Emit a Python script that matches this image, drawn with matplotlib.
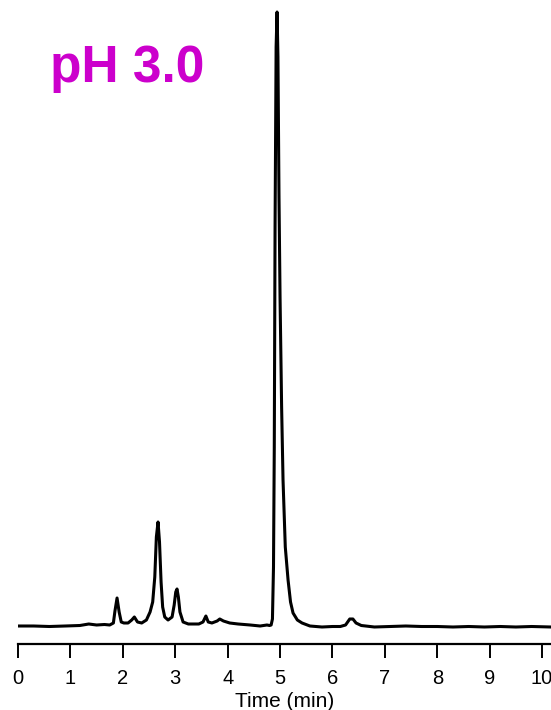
import matplotlib
matplotlib.use('Agg')
import matplotlib.pyplot as plt

plt.rcParams['font.family'] = ['Liberation Sans', 'DejaVu Sans']

# Chromatogram trace at pH 3.0 (time in min, detector signal above baseline)
time_min = [
    0.00, 0.30, 0.60, 0.90, 1.18, 1.35, 1.50, 1.65, 1.75, 1.82,
    1.85, 1.89, 1.93, 1.97, 2.02, 2.10, 2.17, 2.22, 2.28, 2.36,
    2.45, 2.52, 2.57, 2.61, 2.64, 2.672, 2.70, 2.73, 2.76, 2.80,
    2.863, 2.94, 2.98, 3.01, 3.034, 3.06, 3.09, 3.15, 3.25, 3.35,
    3.45, 3.53, 3.585, 3.63, 3.70, 3.80, 3.85, 3.92, 4.04, 4.20,
    4.43, 4.62, 4.75, 4.80, 4.83, 4.855, 4.875, 4.89, 4.905, 4.925,
    4.943, 4.96, 4.98, 5.00, 5.03, 5.057, 5.10, 5.153, 5.20, 5.248,
    5.33, 5.42, 5.57, 5.80, 6.00, 6.15, 6.25, 6.33, 6.39, 6.45,
    6.55, 6.80, 7.10, 7.40, 7.70, 8.00, 8.30, 8.60, 8.90, 9.20,
    9.50, 9.80, 10.17,
]
signal = [
    1.0, 1.0, 0.5, 1.0, 1.5, 3.0, 2.0, 2.5, 2.0, 4.0,
    16.0, 29.0, 15.0, 5.0, 4.0, 4.0, 7.0, 10.0, 5.0, 4.0,
    7.0, 15.0, 25.0, 50.0, 90.0, 105.0, 85.0, 45.0, 20.0, 10.0,
    7.0, 10.0, 22.0, 35.0, 38.0, 30.0, 15.0, 5.0, 3.0, 3.0,
    3.0, 5.0, 11.0, 5.0, 4.0, 6.0, 8.0, 6.0, 4.0, 3.0,
    2.0, 1.0, 2.0, 1.5, 2.0, 8.0, 60.0, 180.0, 400.0, 580.0,
    615.0, 570.0, 430.0, 330.0, 220.0, 147.0, 80.0, 47.0, 25.0, 14.0,
    7.0, 4.0, 1.0, 0.0, 0.5, 0.5, 2.0, 8.0, 8.0, 4.0,
    1.5, 0.0, 0.5, 1.0, 0.5, 0.5, 0.0, 0.5, 0.0, 0.5,
    0.0, 0.5, 0.0,
]
x_ticks = [0, 1, 2, 3, 4, 5, 6, 7, 8, 9, 10]

fig = plt.figure(figsize=(5.51, 7.10), dpi=100)
ax = fig.add_axes([18 / 551, 66 / 710, 533 / 551, 639 / 710])

ax.plot(time_min, signal, color='black', linewidth=2.2,
        solid_joinstyle='round', solid_capstyle='round')

ax.set_xlim(0, 10.17)
ax.set_ylim(-17, 622)

for side in ['top', 'right', 'left']:
    ax.spines[side].set_visible(False)
ax.spines['bottom'].set_linewidth(1.6)
ax.set_yticks([])
ax.set_xticks(x_ticks)
ax.tick_params(axis='x', direction='out', length=10, width=1.4,
               labelsize=14.5, pad=8)
ax.set_xlabel('Time (min)', fontsize=15, labelpad=3)

fig.text(50 / 551, 1 - 82 / 710, 'pH 3.0', color='#CC00CC',
         fontsize=37, fontweight='bold', ha='left', va='baseline')

fig.savefig('out.png', dpi=100)
